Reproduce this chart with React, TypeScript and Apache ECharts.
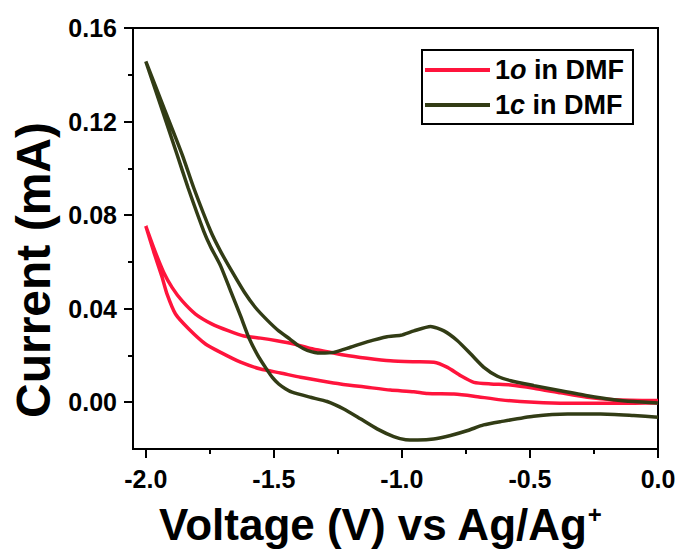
import React, { useEffect, useRef } from "react";
import * as echarts from "echarts";

// ---- data (voltage in V, current in mA) ----
const SERIES_NAMES = ["1o in DMF", "1c in DMF"];

const V_1O = [
  0.0, -0.094, -0.224, -0.353, -0.484, -0.614, -0.719, -0.797, -0.9, -0.954, -1.045, -1.136, -1.24, -1.318,
  -1.396, -1.474, -1.552, -1.63, -1.708, -1.767, -1.832, -1.884, -1.917, -1.936, -1.969, -2.0,
  -1.965, -1.93, -1.897, -1.858, -1.806, -1.741, -1.676, -1.617, -1.552, -1.488, -1.422, -1.357, -1.292, -1.227,
  -1.136, -1.045, -0.954, -0.875, -0.822, -0.77, -0.719, -0.653, -0.575, -0.484, -0.38, -0.276, -0.172, 0.0,
];
const I_1O = [
  -0.0003, -0.0004, -0.0004, -0.0004, 0.0, 0.001, 0.0026, 0.0035, 0.0037, 0.0045, 0.0052, 0.0064, 0.0078, 0.0092,
  0.0107, 0.0125, 0.0142, 0.0171, 0.0213, 0.0249, 0.0313, 0.0377, 0.0462, 0.0533, 0.0643, 0.0753,
  0.0648, 0.0555, 0.049, 0.0433, 0.0377, 0.0334, 0.0305, 0.0283, 0.0274, 0.0263, 0.0249, 0.023, 0.0216, 0.0202,
  0.0188, 0.0177, 0.0173, 0.0171, 0.0149, 0.0113, 0.0085, 0.0078, 0.0074, 0.006, 0.004, 0.0021, 0.0011, 0.0007,
];

const V_1C = [
  0.0, -0.095, -0.224, -0.353, -0.486, -0.614, -0.681, -0.743, -0.81, -0.876, -0.938, -0.985, -1.032, -1.097,
  -1.162, -1.227, -1.292, -1.357, -1.429, -1.455, -1.481, -1.505, -1.533, -1.565, -1.598, -1.63, -1.669, -1.708,
  -1.747, -1.774, -1.835, -1.878, -1.94, -2.0,
  -1.93, -1.858, -1.813, -1.747, -1.708, -1.663, -1.615, -1.572, -1.525, -1.481, -1.435, -1.403,
  -1.37, -1.318, -1.266, -1.201, -1.136, -1.058, -1.005, -0.953, -0.888, -0.836, -0.783, -0.731, -0.68, -0.627,
  -0.575, -0.484, -0.38, -0.276, -0.172, -0.094, 0.0,
];
const I_1C = [
  -0.0064, -0.0057, -0.005, -0.005, -0.006, -0.0083, -0.0097, -0.0121, -0.0142, -0.0157, -0.0161, -0.016, -0.0147,
  -0.0114, -0.0071, -0.0029, 0.0003, 0.0021, 0.0043, 0.0058, 0.0078, 0.0105, 0.0149, 0.0205, 0.0277, 0.0369,
  0.0476, 0.0583, 0.0665, 0.0732, 0.0917, 0.1059, 0.1262, 0.1457,
  0.1261, 0.1059, 0.0917, 0.0732, 0.0645, 0.0558, 0.047, 0.0405, 0.035, 0.0305, 0.0268, 0.0241,
  0.0222, 0.021, 0.0213, 0.0235, 0.0258, 0.028, 0.0286, 0.0305, 0.0324, 0.0305, 0.0263, 0.0206, 0.0149, 0.0111,
  0.0092, 0.0071, 0.0049, 0.0028, 0.0011, 0.0003, -0.0003,
];

const X_TICKS = [-2.0, -1.5, -1.0, -0.5, 0.0];
const X_MINOR = [-1.75, -1.25, -0.75, -0.25];
const Y_TICKS = [0.0, 0.04, 0.08, 0.12, 0.16];
const Y_MINOR = [0.02, 0.06, 0.1, 0.14];

const X_TITLE = "Voltage (V) vs Ag/Ag";
const X_TITLE_SUP = "+";
const Y_TITLE = "Current (mA)";

const RED = "#FF143C";
const DARK = "#323C15";
const FONT = '"Liberation Sans", Arial, sans-serif';

const zip = (xs: number[], ys: number[]) => xs.map((x, i) => [x, ys[i]]);

export default function App() {
  const ref = useRef<HTMLDivElement>(null);

  useEffect(() => {
    document.body.style.margin = "0";
    if (!ref.current) return;
    const chart = echarts.init(ref.current, null, { renderer: "svg" });

    const axisLineStyle = { color: "#000", width: 2 };
    const labelStyle = {
      fontSize: 25,
      fontWeight: "bold" as const,
      color: "#000",
      fontFamily: FONT,
    };
    const legendText = { fontSize: 27, fontWeight: "bold" as const, fontFamily: FONT, color: "#000", lineHeight: 30 };

    const option: any = {
      animation: false,
      backgroundColor: "#fff",
      grid: {
        left: 133,
        top: 28,
        right: 22,
        bottom: 101,
        show: true,
        borderColor: "#000",
        borderWidth: 2,
        backgroundColor: "transparent",
      },
      xAxis: [
        {
          type: "value",
          min: -2.05,
          max: 0,
          position: "bottom",
          axisLine: { show: true, onZero: false, lineStyle: axisLineStyle },
          axisTick: { show: true, customValues: X_TICKS, length: 9, lineStyle: axisLineStyle },
          axisLabel: {
            ...labelStyle,
            customValues: X_TICKS,
            margin: 17,
            formatter: (v: number) => v.toFixed(1),
          },
          splitLine: { show: false },
        },
        {
          type: "value",
          min: -2.05,
          max: 0,
          position: "bottom",
          axisLine: { show: false, onZero: false },
          axisTick: { show: true, customValues: X_MINOR, length: 5, lineStyle: axisLineStyle },
          axisLabel: { show: false },
          splitLine: { show: false },
        },
      ],
      yAxis: [
        {
          type: "value",
          min: -0.02,
          max: 0.16,
          position: "left",
          axisLine: { show: true, onZero: false, lineStyle: axisLineStyle },
          axisTick: { show: true, customValues: Y_TICKS, length: 9, lineStyle: axisLineStyle },
          axisLabel: {
            ...labelStyle,
            customValues: Y_TICKS,
            margin: 16,
            formatter: (v: number) => v.toFixed(2),
          },
          splitLine: { show: false },
        },
        {
          type: "value",
          min: -0.02,
          max: 0.16,
          position: "left",
          axisLine: { show: false, onZero: false },
          axisTick: { show: true, customValues: Y_MINOR, length: 5, lineStyle: axisLineStyle },
          axisLabel: { show: false },
          splitLine: { show: false },
        },
      ],
      legend: {
        data: SERIES_NAMES,
        left: 422,
        top: 50,
        orient: "vertical",
        icon: "rect",
        itemWidth: 65,
        itemHeight: 4,
        itemGap: 5,
        padding: [5, 9, 4, 3],
        borderColor: "#000",
        borderWidth: 2,
        backgroundColor: "#fff",
        formatter: (name: string) => `{n|${name.charAt(0)}}{i|${name.charAt(1)}}{n|${name.slice(2)}}`,
        textStyle: {
          ...legendText,
          rich: {
            n: { ...legendText },
            i: { ...legendText, fontStyle: "italic" },
          },
        },
      },
      graphic: [
        {
          type: "text",
          x: 33,
          y: 270,
          rotation: Math.PI / 2,
          style: {
            text: Y_TITLE,
            fill: "#000",
            font: `bold 48px ${FONT}`,
            align: "center",
            verticalAlign: "middle",
          },
        },
        {
          type: "text",
          x: 380,
          y: 524,
          style: {
            text: `{a|${X_TITLE}}{s|${X_TITLE_SUP}}`,
            fill: "#000",
            align: "center",
            verticalAlign: "middle",
            rich: {
              a: { fontSize: 44, fontWeight: "bold", fontFamily: FONT, fill: "#000" },
              s: { fontSize: 24, fontWeight: "bold", fontFamily: FONT, fill: "#000", verticalAlign: "top" },
            },
          },
        },
      ],
      series: [
        {
          name: SERIES_NAMES[0],
          type: "line",
          xAxisIndex: 0,
          yAxisIndex: 0,
          data: zip(V_1O, I_1O),
          symbol: "none",
          smooth: 0.2,
          lineStyle: { color: RED, width: 3.5 },
          itemStyle: { color: RED },
        },
        {
          name: SERIES_NAMES[1],
          type: "line",
          xAxisIndex: 0,
          yAxisIndex: 0,
          data: zip(V_1C, I_1C),
          symbol: "none",
          smooth: 0.2,
          lineStyle: { color: DARK, width: 3.5 },
          itemStyle: { color: DARK },
        },
      ],
    };

    chart.setOption(option);
    return () => chart.dispose();
  }, []);

  return <div ref={ref} style={{ width: 680, height: 550 }} />;
}
